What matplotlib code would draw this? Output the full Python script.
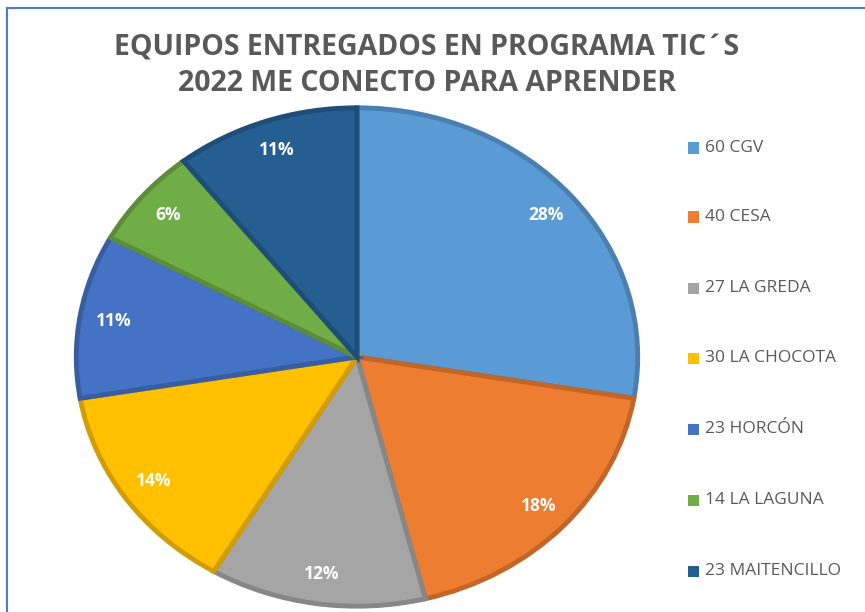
import matplotlib
matplotlib.use("Agg")
import matplotlib.pyplot as plt
from matplotlib.patches import Rectangle
import matplotlib.colors as mcolors

labels = ["60 CGV", "40 CESA", "27 LA GREDA", "30 LA CHOCOTA", "23 HORCÓN", "14 LA LAGUNA", "23 MAITENCILLO"]
values = [60, 40, 27, 30, 23, 14, 23]
colors = ["#5B9BD5", "#ED7D31", "#A5A5A5", "#FFC000", "#4472C4", "#70AD47", "#255E91"]
title = "EQUIPOS ENTREGADOS EN PROGRAMA TIC´S\n2022 ME CONECTO PARA APRENDER"

W, H = 865, 612
fig = plt.figure(figsize=(W / 100, H / 100), dpi=100)
fig.patch.set_facecolor("white")

# outer border
fig.patches.append(Rectangle((7 / W, -0.1), 2, (H - 8) / H + 0.1, transform=fig.transFigure,
                             fill=False, edgecolor="#4A7BD0", linewidth=1.5))

# pie axes (elliptical)
cx, cy, rx, ry = 357, 357, 285, 253
ax = fig.add_axes([(cx - rx) / W, (H - cy - ry) / H, 2 * rx / W, 2 * ry / H])

def darker(c, f=0.82):
    r, g, b = mcolors.to_rgb(c)
    return (r * f, g * f, b * f)

wedges, texts, autotexts = ax.pie(values, colors=colors, startangle=90, counterclock=False,
                                  autopct=lambda p: f"{p:.0f}%", pctdistance=0.88,
                                  radius=0.985,
                                  wedgeprops=dict(linewidth=3.5),
                                  textprops=dict(color="white", fontsize=12.5, fontweight="bold",
                                                 family="Open Sans"))
for w, c in zip(wedges, colors):
    w.set_edgecolor(darker(c))
ax.set_aspect("auto")
ax.set_xlim(-1, 1)
ax.set_ylim(-1, 1)
ax.axis("off")

fig.text(427 / W, 1 - 66 / H, title, ha="center", va="center", fontsize=20.5,
         fontweight="bold", color="#595959", family="Open Sans", linespacing=1.3)

# legend
ys = [148, 217, 288, 358, 429, 500, 571]
for lab, c, y in zip(labels, colors, ys):
    fig.patches.append(Rectangle((688 / W, 1 - (y + 5.5) / H), 11 / W, 11 / H,
                                 transform=fig.transFigure, facecolor=c, edgecolor="none"))
    fig.text(705 / W, 1 - y / H, lab, ha="left", va="center", fontsize=12.5,
             color="#595959", family="Open Sans")

fig.savefig("out.png", dpi=100)
